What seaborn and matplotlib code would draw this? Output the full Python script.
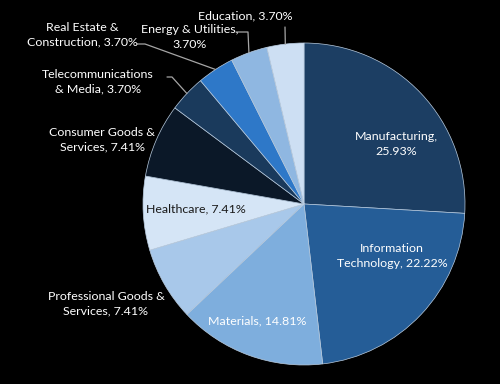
import matplotlib
matplotlib.use("Agg")
import matplotlib.pyplot as plt
import seaborn as sns
import numpy as np

categories = ["Manufacturing", "Information Technology", "Materials",
              "Professional Goods & Services", "Healthcare", "Consumer Goods & Services",
              "Telecommunications & Media", "Real Estate & Construction", "Energy & Utilities",
              "Education"]
percent_labels = ["25.93%", "22.22%", "14.81%", "7.41%", "7.41%", "7.41%",
                  "3.70%", "3.70%", "3.70%", "3.70%"]
counts = [7, 6, 4, 2, 2, 2, 1, 1, 1, 1]
colors = ["#1C3E63", "#255D97", "#7EAEDD", "#A8C8EA", "#D5E5F6",
          "#0B1828", "#1A3A5C", "#2E78C8", "#8FB7E1", "#CDDFF3"]

sns.set_style("dark")
plt.rcParams["font.family"] = ["Lato", "DejaVu Sans"]

W, H = 500, 384
CX, CY, R = 304, 204, 161
fig = plt.figure(figsize=(W / 100, H / 100), dpi=100, facecolor="black")
ax = fig.add_axes([0, 0, 1, 1])
ax.set_facecolor("black")

wedges, _ = ax.pie(counts, colors=colors, startangle=90, counterclock=False,
                   radius=1.0, wedgeprops=dict(edgecolor="#b9cce0", linewidth=0.5))
ax.set_aspect("auto")
ax.set_xlim((0 - CX) / R, (W - CX) / R)
ax.set_ylim((CY - H) / R, (CY - 0) / R)
ax.set_axis_off()

def p(px, py):
    return (px - CX) / R, (CY - py) / R

texts = [
    "Manufacturing,\n25.93%",
    "Information\nTechnology, 22.22%",
    "Materials, 14.81%",
    "Professional Goods &\nServices, 7.41%",
    "Healthcare, 7.41%",
    "Consumer Goods &\nServices, 7.41%",
    "Telecommunications\n& Media, 3.70%",
    "Real Estate &\nConstruction, 3.70%",
    "Energy & Utilities,\n3.70%",
    "Education, 3.70%",
]

place = [
    ((396, 144), "white", None),
    ((392, 256), "white", None),
    ((257, 321), "white", None),
    ((106, 304), "white", None),
    ((196, 209), "#1a1a1a", None),
    ((102, 140), "white", None),
    ((98, 82), "white", [(167, 77), (172, 77)]),
    ((82, 35), "white", [(137, 44), (145, 44)]),
    ((190, 37), "white", [(236, 32), (248, 32)]),
    ((245, 16), "white", [(285, 27)]),
]

for i, w in enumerate(wedges):
    (px, py), col, leader = place[i]
    x, y = p(px, py)
    ax.text(x, y, texts[i], ha="center", va="center", color=col,
            fontsize=8.9, linespacing=1.4)
    if leader:
        mid = np.deg2rad((w.theta1 + w.theta2) / 2)
        ex, ey = np.cos(mid), np.sin(mid)
        xs = [p(a, b)[0] for a, b in leader] + [ex]
        ys = [p(a, b)[1] for a, b in leader] + [ey]
        ax.plot(xs, ys, color="#a6a6a6", lw=0.9)

fig.savefig("out.png", dpi=100, facecolor="black")
